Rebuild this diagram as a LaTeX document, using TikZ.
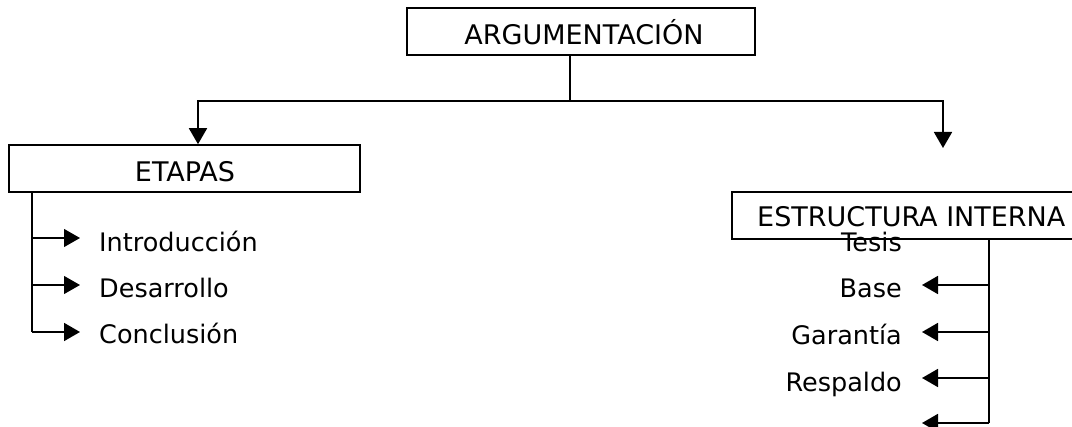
\documentclass[tikz,border=0pt]{standalone}
\usepackage{fontspec}
\setmainfont{DejaVu Sans}
\usetikzlibrary{arrows.meta}
\begin{document}
\begin{tikzpicture}[x=1pt,y=-1pt,
  box/.style={draw,line width=1.6pt,inner sep=0pt,minimum width=#1,minimum height=47pt},
  txt/.style={inner sep=0pt,font=\fontsize{27}{31}\selectfont},
  item/.style={inner sep=0pt,font=\fontsize{25.5}{30}\selectfont},
  ln/.style={line width=1.8pt},
  arr/.style={line width=1.8pt,-{Triangle[length=16pt,width=18pt]}}]
\useasboundingbox (0,0) rectangle (1072,427);
% boxes
\node[box=348pt] (arg) at (581,31.5) {};
\node[txt,anchor=base] (argt) at (584,45) {ARGUMENTACIÓN};
\node[box=351pt] (etapas) at (184.5,168.5) {};
\node[txt,anchor=base] (etapast) at (185,182) {ETAPAS};
\node[box=342pt] (estr) at (903,215.5) {};
\node[txt,anchor=base west] (estrt) at (757,227) {ESTRUCTURA INTERNA};
% top connectors
\coordinate (j) at (570,101);
\coordinate (rtip) at (943,148);
\draw[ln] (arg.south -| j) -- (j);
\draw[arr] (j) -| ([xshift=13.5pt]etapas.north);
\draw[arr] (j) -| (rtip);
% left list
\node[item,anchor=base west] (intro) at (99,252) {Introducción};
\node[item,anchor=base west] (desa) at (99,298) {Desarrollo};
\node[item,anchor=base west] (concl) at (99,344) {Conclusión};
\coordinate (lt) at (32,192);
\coordinate (lb) at (32,332);
\draw[ln] (lt) -- (lb);
\draw[arr,line width=1.1pt] ([xshift=-1pt]lt |- 0,238) -- ([xshift=-19pt,yshift=14pt]intro.base west);
\draw[arr,line width=1.1pt] ([xshift=-1pt]lt |- 0,285) -- ([xshift=-19pt,yshift=13pt]desa.base west);
\draw[arr] (lb) -- ([xshift=-19pt,yshift=12pt]concl.base west);
% right list
\node[item,anchor=base east] (tesis) at (902,252) {Tesis};
\node[item,anchor=base east] (base) at (902,298) {Base};
\node[item,anchor=base east] (gar) at (902,345) {Garantía};
\node[item,anchor=base east] (resp) at (902,392) {Respaldo};
\coordinate (rt) at (989,239);
\coordinate (rb) at (989,423);
\coordinate (rend) at (922,423);
\draw[ln] (rt) -- (rb);
\draw[arr] (rt |- 0,285) -- ([xshift=20pt,yshift=13pt]base.base east);
\draw[arr] (rt |- 0,332) -- ([xshift=20pt,yshift=13pt]gar.base east);
\draw[arr] (rt |- 0,378) -- ([xshift=20pt,yshift=14pt]resp.base east);
\draw[arr] (rb) -- (rend);
\end{tikzpicture}
\end{document}
